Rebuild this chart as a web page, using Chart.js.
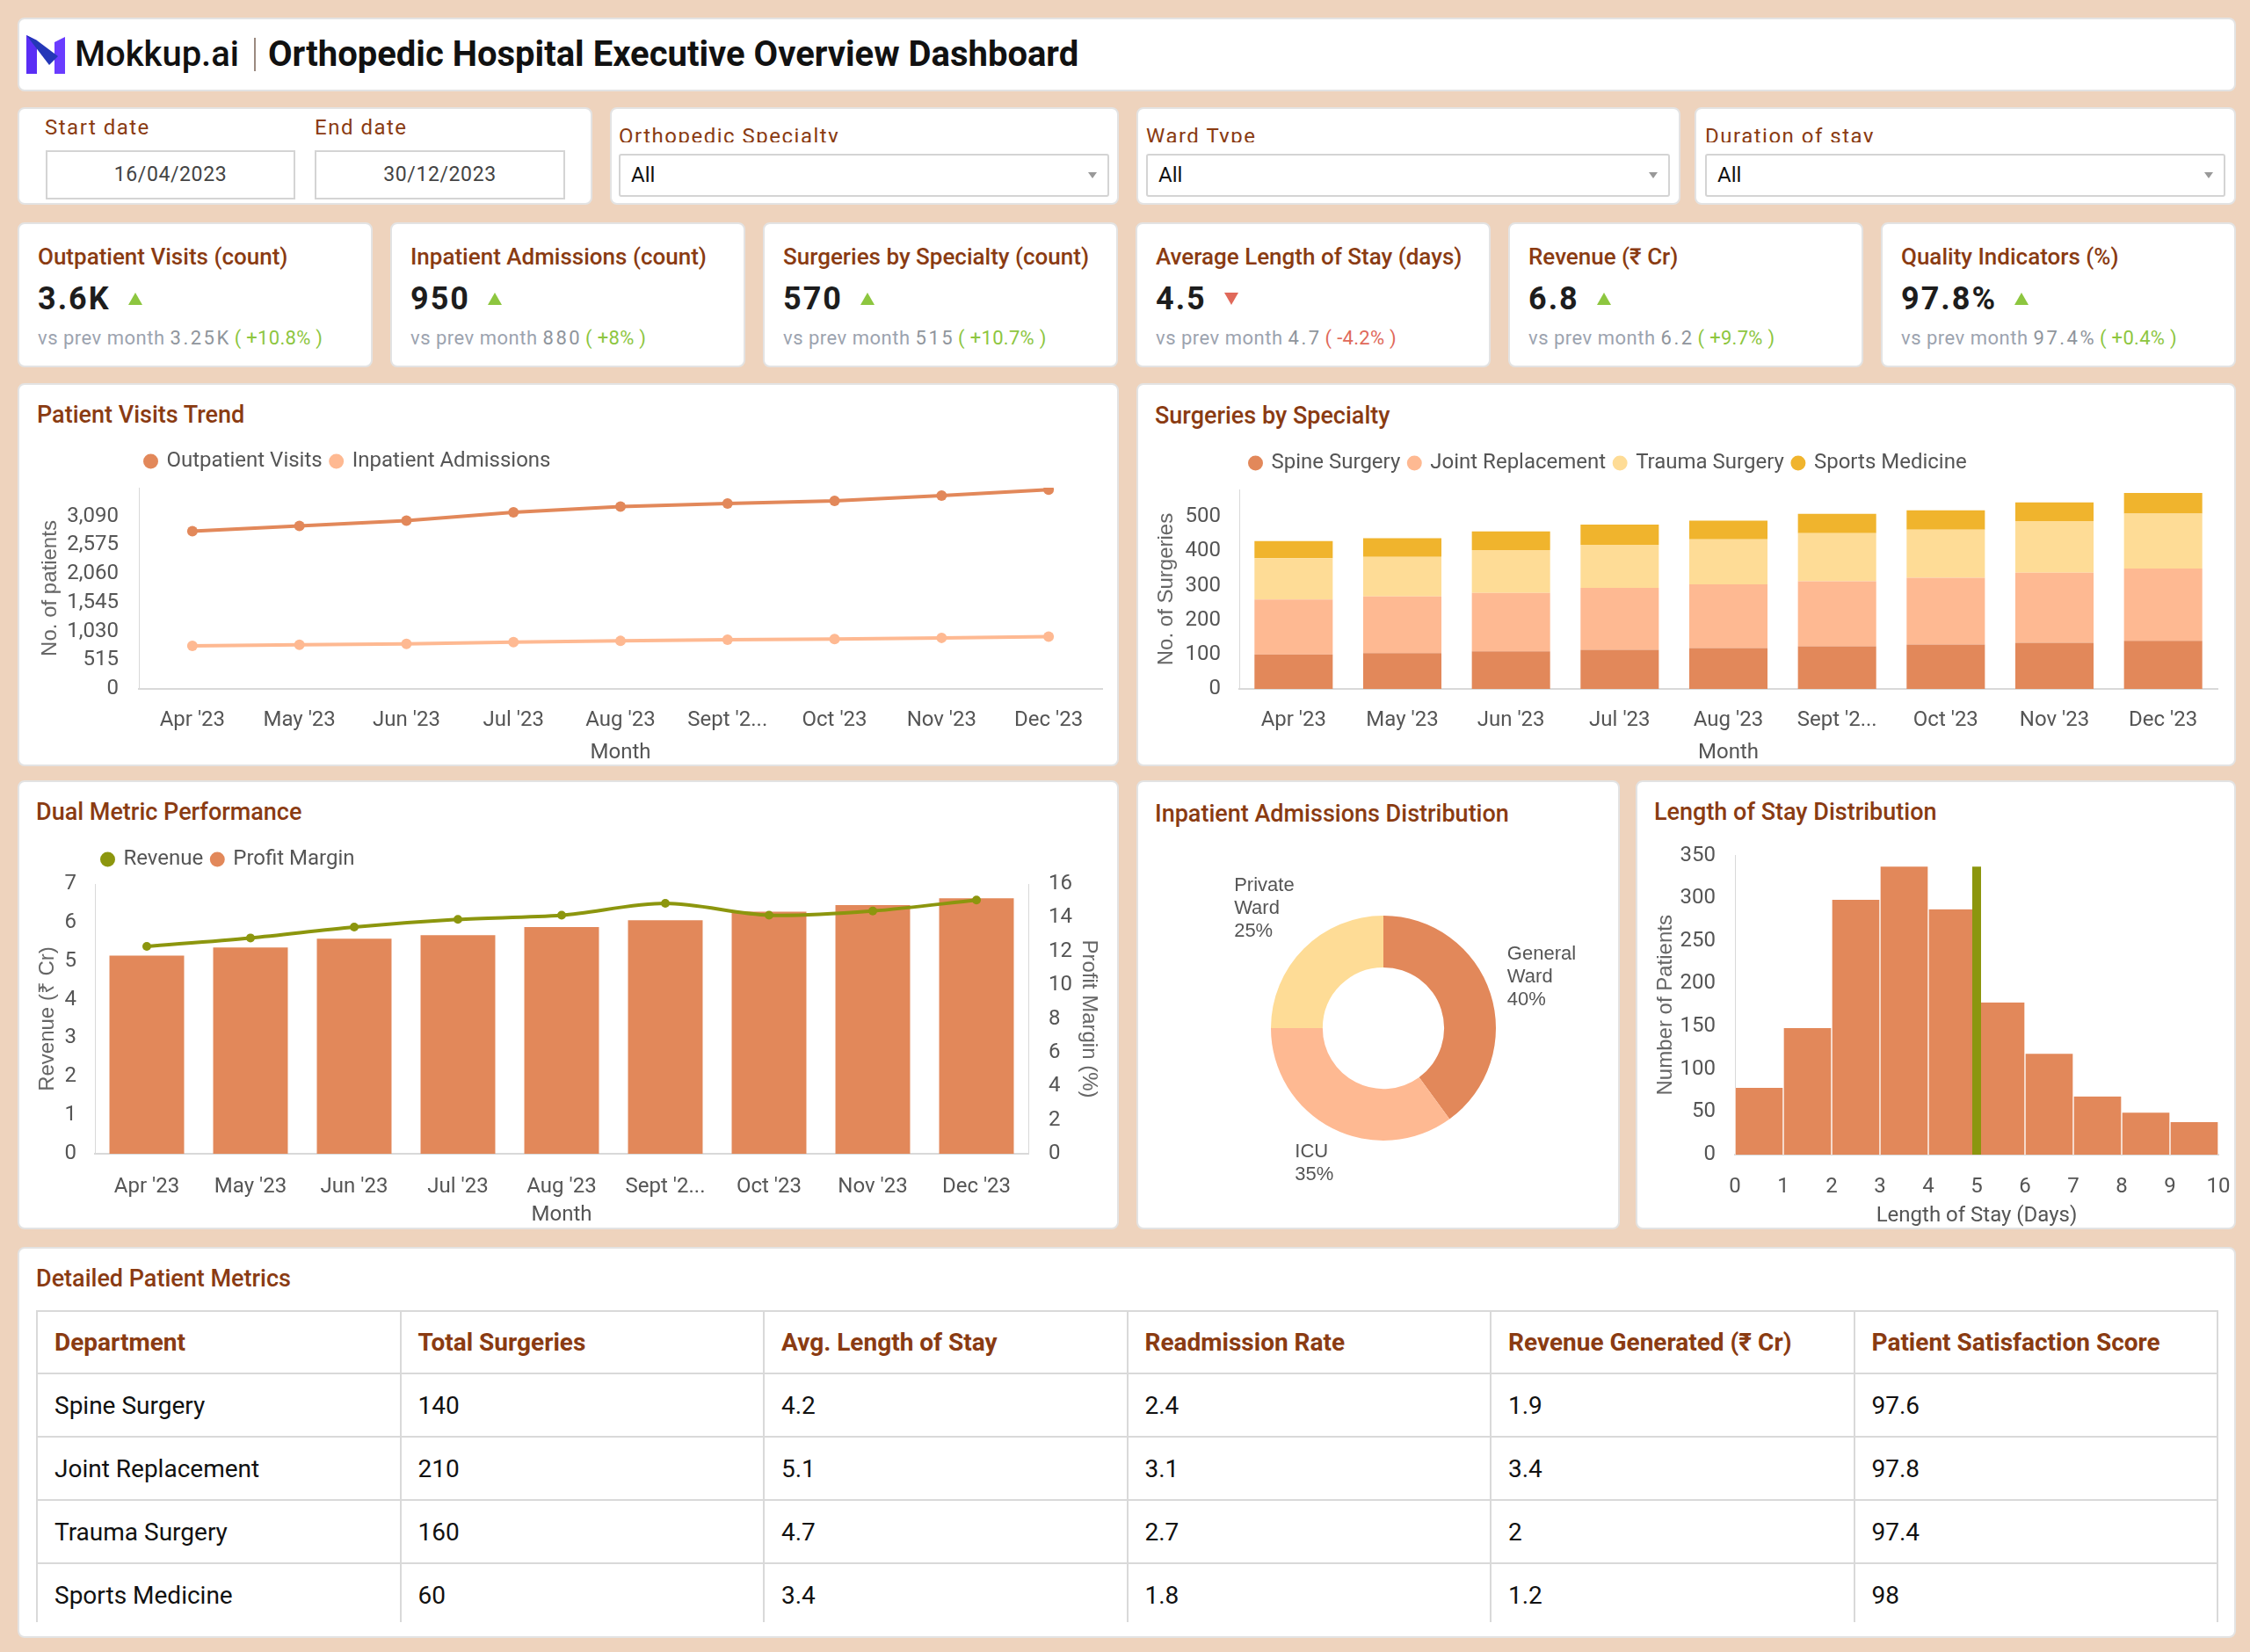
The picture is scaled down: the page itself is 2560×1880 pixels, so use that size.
<!DOCTYPE html>
<html lang="en">
<head>
<meta charset="utf-8">
<title>Orthopedic Hospital Executive Overview Dashboard</title>
<script src="https://cdn.jsdelivr.net/npm/chart.js@4.4.1/dist/chart.umd.min.js"></script>
<style>
html, body { margin: 0; padding: 0; }
body {
  position: relative; width: 2560px; height: 1880px; overflow: hidden;
  background: #EED3BD; font-family: Roboto, "Noto Sans", Arial, sans-serif;
}
.card { position: absolute; box-sizing: border-box; background: #fff; border: 2px solid #e3e3e3; border-radius: 8px; }
.txt { position: absolute; white-space: nowrap; }
.ctitle { font-size: 27px; font-weight: 500; line-height: 32px; color: #8A3B12; }
.flabel { font-size: 24px; letter-spacing: 1.5px; line-height: 28px; color: #8A3B12; overflow: hidden; }
.fbox { position: absolute; box-sizing: border-box; border: 2px solid #d4d4d4; background: #fff; }
.date { text-align: center; font-size: 23px; letter-spacing: 0.6px; color: #444; line-height: 52px; }
.select { font-size: 24px; color: #111; line-height: 45px; padding-left: 12px; border-radius: 3px; }
.select .arrow { position: absolute; right: 12px; top: 19px; border-left: 5px solid transparent; border-right: 5px solid transparent; border-top: 7px solid #999; }
.kpi-title { font-size: 26px; font-weight: 500; line-height: 30px; color: #8A3B12; }
.kpi-value { font-size: 36px; font-weight: 700; letter-spacing: 2px; line-height: 40px; color: #1d1d1d; }
.tri { display: inline-block; margin-left: 20px; vertical-align: 5px; }
.tri.up { border-left: 8px solid transparent; border-right: 8px solid transparent; border-bottom: 14px solid #8DC63F; }
.tri.down { border-left: 8px solid transparent; border-right: 8px solid transparent; border-top: 14px solid #E0695A; }
.kpi-sub { font-size: 22px; letter-spacing: 0.5px; line-height: 26px; color: #9ca3af; }
.kpi-sub .num { letter-spacing: 2.5px; color: #8f959c; margin-left: 6px; }
.kpi-sub .pos { color: #8DC63F; margin-left: 4px; letter-spacing: 0.3px; }
.kpi-sub .neg { color: #E0695A; margin-left: 4px; letter-spacing: 0.3px; }
.chart-box { position: absolute; }
.table-wrap { position: absolute; left: 41px; top: 1491px; width: 2483px; height: 355px; overflow: hidden; }
table { width: 100%; border-collapse: collapse; table-layout: fixed; }
th, td { border: 2px solid #d9d9d9; text-align: left; padding: 0 0 0 19px; }
th { height: 69px; font-size: 28px; font-weight: 700; color: #8A3B12; }
td { height: 70px; font-size: 28px; color: #111; }
</style>
</head>
<body>

<!-- header -->
<div class="card" style="left:20px;top:20px;width:2524px;height:84px;"></div>
<svg class="txt" style="left:30px;top:40px;" width="44" height="44" viewBox="0 0 44 44">
  <polygon points="0,0 12,6 12,44 0,44" fill="#5A2EF5"/>
  <polygon points="32,8 44,2 44,44 32,44" fill="#6A3CFF"/>
  <polygon points="0,0 12,6 36,24 26,34" fill="#2437B8"/>
</svg>
<div class="txt" style="left:85px;top:40px;font-size:40px;font-weight:500;line-height:44px;color:#111;">Mokkup.ai</div>
<div class="txt" style="left:289px;top:43px;width:2px;height:38px;background:#9a8a80;"></div>
<div class="txt" style="left:305px;top:40px;font-size:40px;font-weight:700;line-height:44px;color:#111;">Orthopedic Hospital Executive Overview Dashboard</div>

<!-- filters -->
<div class="card" style="left:20px;top:122px;width:654px;height:111px;"></div>
<div class="txt flabel" style="left:51px;top:131px;">Start date</div>
<div class="fbox date" style="left:52px;top:171px;width:284px;height:56px;">16/04/2023</div>
<div class="txt flabel" style="left:358px;top:131px;">End date</div>
<div class="fbox date" style="left:358px;top:171px;width:285px;height:56px;">30/12/2023</div>

<div class="card" style="left:694px;top:122px;width:579px;height:111px;"></div>
<div class="txt flabel" style="left:704px;top:141px;height:21px;">Orthopedic Specialty</div>
<div class="fbox select" style="left:704px;top:175px;width:558px;height:49px;">All<span class="arrow"></span></div>

<div class="card" style="left:1293px;top:122px;width:619px;height:111px;"></div>
<div class="txt flabel" style="left:1304px;top:141px;height:21px;">Ward Type</div>
<div class="fbox select" style="left:1304px;top:175px;width:596px;height:49px;">All<span class="arrow"></span></div>

<div class="card" style="left:1928px;top:122px;width:616px;height:111px;"></div>
<div class="txt flabel" style="left:1940px;top:141px;height:21px;">Duration of stay</div>
<div class="fbox select" style="left:1940px;top:175px;width:592px;height:49px;">All<span class="arrow"></span></div>

<!-- KPI cards are added by script -->
<div id="kpis"></div>

<!-- chart cards -->
<div class="card" style="left:20px;top:436px;width:1253px;height:436px;"></div>
<div class="txt ctitle" style="left:42px;top:456px;">Patient Visits Trend</div>
<div class="chart-box" style="left:30px;top:500px;width:1238px;height:372px;"><canvas id="visitsChart"></canvas></div>

<div class="card" style="left:1293px;top:436px;width:1251px;height:436px;"></div>
<div class="txt ctitle" style="left:1314px;top:457px;">Surgeries by Specialty</div>
<div class="chart-box" style="left:1303px;top:500px;width:1236px;height:372px;"><canvas id="surgeryChart"></canvas></div>

<div class="card" style="left:20px;top:888px;width:1253px;height:511px;"></div>
<div class="txt ctitle" style="left:41px;top:908px;">Dual Metric Performance</div>
<div class="chart-box" style="left:30px;top:950px;width:1238px;height:449px;"><canvas id="dualChart"></canvas></div>

<div class="card" style="left:1293px;top:888px;width:550px;height:511px;"></div>
<div class="txt ctitle" style="left:1314px;top:910px;">Inpatient Admissions Distribution</div>
<div class="chart-box" style="left:1303px;top:960px;width:530px;height:430px;"><canvas id="wardChart"></canvas></div>

<div class="card" style="left:1861px;top:888px;width:683px;height:511px;"></div>
<div class="txt ctitle" style="left:1882px;top:908px;">Length of Stay Distribution</div>
<div class="chart-box" style="left:1871px;top:950px;width:669px;height:449px;"><canvas id="stayChart"></canvas></div>

<!-- table -->
<div class="card" style="left:20px;top:1419px;width:2524px;height:445px;"></div>
<div class="txt ctitle" style="left:41px;top:1439px;">Detailed Patient Metrics</div>
<div class="table-wrap"><table id="metricsTable"></table></div>

<script>
// ================= DATA =================
const months = ["Apr '23", "May '23", "Jun '23", "Jul '23", "Aug '23", "Sept '23", "Oct '23", "Nov '23", "Dec '23"];

const outpatientVisits = [2825, 2920, 3015, 3165, 3265, 3320, 3370, 3465, 3570];
const inpatientAdmissions = [770, 790, 805, 840, 860, 880, 895, 915, 935];
const patientTicks = [0, 515, 1030, 1545, 2060, 2575, 3090];

const spineSurgery = [100, 104, 109, 114, 119, 124, 129, 134, 140];
const jointReplacement = [160, 165, 170, 180, 185, 189, 194, 204, 210];
const traumaSurgery = [120, 115, 125, 125, 131, 140, 140, 150, 160];
const sportsMedicine = [50, 54, 54, 59, 54, 56, 56, 54, 60];

const revenueCr = [5.14, 5.35, 5.58, 5.67, 5.88, 6.06, 6.28, 6.45, 6.63];
const profitMargin = [12.3, 12.8, 13.45, 13.9, 14.15, 14.85, 14.15, 14.4, 15.05];

const wardTypes = ["General Ward", "ICU", "Private Ward"];
const wardShare = [40, 35, 25];

const stayBins = [0.5, 1.5, 2.5, 3.5, 4.5, 5.5, 6.5, 7.5, 8.5, 9.5];
const stayPatients = [78, 148, 298, 337, 287, 178, 118, 68, 49, 38];
const stayMarker = 5;

const kpiTitles = ["Outpatient Visits (count)", "Inpatient Admissions (count)", "Surgeries by Specialty (count)", "Average Length of Stay (days)", "Revenue (₹ Cr)", "Quality Indicators (%)"];
const kpiValues = ["3.6K", "950", "570", "4.5", "6.8", "97.8%"];
const kpiPrev = ["3.25K", "880", "515", "4.7", "6.2", "97.4%"];
const kpiChange = ["+10.8%", "+8%", "+10.7%", "-4.2%", "+9.7%", "+0.4%"];

const tableHead = ["Department", "Total Surgeries", "Avg. Length of Stay", "Readmission Rate", "Revenue Generated (₹ Cr)", "Patient Satisfaction Score"];
const departments = ["Spine Surgery", "Joint Replacement", "Trauma Surgery", "Sports Medicine"];
const deptSurgeries = [140, 210, 160, 60];
const deptStay = [4.2, 5.1, 4.7, 3.4];
const deptReadmission = [2.4, 3.1, 2.7, 1.8];
const deptRevenue = [1.9, 3.4, 2, 1.2];
const deptSatisfaction = [97.6, 97.8, 97.4, 98];


// ================= COLOURS =================
const ORANGE = "#E2885A";
const SALMON = "#FEB992";
const CREAM = "#FEDC96";
const AMBER = "#F0B42D";
const OLIVE = "#8C960E";
const AXIS = "#d9d9d9";
const SIDE_FONT = { family: '"Liberation Sans", Arial, sans-serif', size: 24 };


// ================= KPI CARDS =================
function buildKpis() {
    const holder = document.getElementById("kpis");
    let html = "";
    kpiTitles.forEach((title, i) => {
        const left = 20 + i * 424;
        const up = kpiChange[i].startsWith("+");
        html += `<div class="card" style="left:${left}px;top:253px;width:404px;height:165px;"></div>` +
            `<div class="txt kpi-title" style="left:${left + 23}px;top:277px;">${title}</div>` +
            `<div class="txt kpi-value" style="left:${left + 23}px;top:320px;">${kpiValues[i]}<span class="tri ${up ? "up" : "down"}"></span></div>` +
            `<div class="txt kpi-sub" style="left:${left + 23}px;top:372px;">vs prev month<span class="num">${kpiPrev[i]}</span>` +
            `<span class="${up ? "pos" : "neg"}">( ${kpiChange[i]} )</span></div>`;
    });
    holder.innerHTML = html;
}


// ================= TABLE =================
function buildTable() {
    const rows = departments.map((d, i) =>
        `<tr><td>${d}</td><td>${deptSurgeries[i]}</td><td>${deptStay[i]}</td>` +
        `<td>${deptReadmission[i]}</td><td>${deptRevenue[i]}</td><td>${deptSatisfaction[i]}</td></tr>`
    ).join("");
    document.getElementById("metricsTable").innerHTML =
        "<tr>" + tableHead.map(h => `<th>${h}</th>`).join("") + "</tr>" + rows;
}


// ================= CHART HELPERS =================
Chart.defaults.font.family = 'Roboto, "Noto Sans", sans-serif';
Chart.defaults.font.size = 24;
Chart.defaults.color = "#555";
Chart.defaults.animation = false;

// fixed axis thickness so the plot area lands where the reference has it
function fixSize(size) {
    return scale => {
        if (scale.isHorizontal()) scale.height = size;
        else scale.width = size;
        scale.paddingTop = scale.paddingBottom = scale.paddingLeft = scale.paddingRight = 0;
    };
}

function shortMonth(value) {
    const label = this.getLabelForValue(value);
    return label.length > 7 ? label.slice(0, 7) + "..." : label;
}

// legend starts at the plot's left edge and leaves a gap below it
const legendTweak = {
    id: "legendTweak",
    afterInit(chart) {
        const legend = chart.legend;
        if (!legend) return;
        const baseFit = legend.fit;
        legend.fit = function () {
            baseFit.call(this);
            this.height += chart.options.plugins.legendTweak.gap || 0;
        };
    },
    afterLayout(chart) {
        const legend = chart.legend;
        if (!legend) return;
        const shift = chart.options.plugins.legendTweak.shift || 0;
        legend.left = chart.chartArea.left + shift - legend.options.labels.padding;
    }
};

function legendOptions() {
    return {
        position: "top",
        align: "start",
        labels: {
            usePointStyle: true,
            pointStyle: "circle",
            boxWidth: 12,
            boxHeight: 12,
            padding: 10,
            color: "#555",
            font: { size: 24 },
            generateLabels(chart) {
                return Chart.defaults.plugins.legend.labels.generateLabels(chart)
                    .map(item => Object.assign(item, { lineWidth: 0 }));
            }
        }
    };
}

const noGrid = { display: false, drawTicks: false };
const axisLine = { display: true, color: AXIS, width: 2 };


// ================= PATIENT VISITS =================
function renderVisits() {
    new Chart(document.getElementById("visitsChart"), {
        type: "line",
        data: {
            labels: months,
            datasets: [
                { label: "Outpatient Visits", data: outpatientVisits, borderColor: ORANGE, backgroundColor: ORANGE, borderWidth: 4, pointRadius: 6, pointBorderWidth: 0 },
                { label: "Inpatient Admissions", data: inpatientAdmissions, borderColor: SALMON, backgroundColor: SALMON, borderWidth: 4, pointRadius: 6, pointBorderWidth: 0 }
            ]
        },
        options: {
            responsive: true,
            maintainAspectRatio: false,
            layout: { padding: { top: 3, right: 14, bottom: 0, left: 0 } },
            plugins: {
                legend: legendOptions(),
                legendTweak: { gap: 8, shift: 7.5 },
                tooltip: { enabled: false }
            },
            scales: {
                x: {
                    offset: true,
                    grid: noGrid,
                    border: axisLine,
                    ticks: { padding: 22, callback: shortMonth, maxRotation: 0, autoSkip: false },
                    title: { display: true, text: "Month", font: { size: 24 }, padding: { top: 0, bottom: 1 } },
                    afterFit: fixSize(88)
                },
                y: {
                    min: 0,
                    max: patientTicks[patientTicks.length - 1] + 515,
                    grid: noGrid,
                    border: { display: true, color: AXIS, width: 1 },
                    ticks: {
                        stepSize: 515,
                        padding: 23,
                        callback: v => patientTicks.includes(v) ? v.toLocaleString("en-US") : ""
                    },
                    title: { display: true, text: "No. of patients", font: SIDE_FONT, color: "#666", padding: { top: 12.8, bottom: 0 } },
                    afterFit: fixSize(128)
                }
            }
        },
        plugins: [legendTweak]
    });
}


// ================= SURGERIES BY SPECIALTY =================
function renderSurgeries() {
    new Chart(document.getElementById("surgeryChart"), {
        type: "bar",
        data: {
            labels: months,
            datasets: [
                { label: "Spine Surgery", data: spineSurgery, backgroundColor: ORANGE },
                { label: "Joint Replacement", data: jointReplacement, backgroundColor: SALMON },
                { label: "Trauma Surgery", data: traumaSurgery, backgroundColor: CREAM },
                { label: "Sports Medicine", data: sportsMedicine, backgroundColor: AMBER }
            ]
        },
        options: {
            responsive: true,
            maintainAspectRatio: false,
            layout: { padding: { top: 5, right: 16, bottom: 0, left: 0 } },
            plugins: {
                legend: legendOptions(),
                legendTweak: { gap: 8, shift: 12.5 },
                tooltip: { enabled: false }
            },
            scales: {
                x: {
                    stacked: true,
                    grid: noGrid,
                    border: axisLine,
                    ticks: { padding: 22, callback: shortMonth, maxRotation: 0, autoSkip: false },
                    title: { display: true, text: "Month", font: { size: 24 }, padding: { top: 0, bottom: 1 } },
                    afterFit: fixSize(88)
                },
                y: {
                    stacked: true,
                    min: 0,
                    max: 580,
                    grid: noGrid,
                    border: { display: true, color: AXIS, width: 1 },
                    ticks: { stepSize: 100, padding: 21, callback: v => v % 100 === 0 ? v : "" },
                    title: { display: true, text: "No. of Surgeries", font: SIDE_FONT, color: "#666", padding: { top: 9.8, bottom: 0 } },
                    afterFit: fixSize(107)
                }
            }
        },
        plugins: [legendTweak]
    });
}


// ================= DUAL METRIC =================
function renderDual() {
    new Chart(document.getElementById("dualChart"), {
        type: "bar",
        data: {
            labels: months,
            datasets: [
                {
                    type: "line", label: "Revenue", data: profitMargin, yAxisID: "y1", order: 0,
                    borderColor: OLIVE, backgroundColor: OLIVE, borderWidth: 4, tension: 0.3,
                    pointRadius: 5, pointBorderWidth: 0
                },
                { type: "bar", label: "Profit Margin", data: revenueCr, yAxisID: "y", order: 1, backgroundColor: ORANGE }
            ]
        },
        options: {
            responsive: true,
            maintainAspectRatio: false,
            layout: { padding: { top: 6, right: 0, bottom: 0, left: 0 } },
            plugins: {
                legend: legendOptions(),
                legendTweak: { gap: 6, shift: 8.5 },
                tooltip: { enabled: false }
            },
            scales: {
                x: {
                    grid: noGrid,
                    border: axisLine,
                    ticks: { padding: 23.6, callback: shortMonth, maxRotation: 0, autoSkip: false },
                    title: { display: true, text: "Month", font: { size: 24 }, padding: { top: 0, bottom: 1.6 } },
                    afterFit: fixSize(86)
                },
                y: {
                    position: "left",
                    min: 0,
                    max: 7,
                    grid: noGrid,
                    border: { display: true, color: AXIS, width: 1 },
                    ticks: { stepSize: 1, padding: 21 },
                    title: { display: true, text: "Revenue (₹ Cr)", font: SIDE_FONT, color: "#666", padding: { top: 9.8, bottom: 0 } },
                    afterFit: fixSize(78)
                },
                y1: {
                    position: "right",
                    min: 0,
                    max: 16,
                    grid: noGrid,
                    border: { display: true, color: AXIS, width: 1 },
                    ticks: { stepSize: 2, padding: 23 },
                    title: { display: true, text: "Profit Margin (%)", font: SIDE_FONT, color: "#666", padding: { top: 14.8, bottom: 0 } },
                    afterFit: fixSize(98)
                }
            }
        },
        plugins: [legendTweak]
    });
}


// ================= WARD DISTRIBUTION =================
const sliceLabels = {
    id: "sliceLabels",
    afterDatasetsDraw(chart) {
        const { ctx } = chart;
        const meta = chart.getDatasetMeta(0);
        const total = wardShare.reduce((a, b) => a + b, 0);
        const lineH = 26;
        ctx.save();
        ctx.font = '22px "Liberation Sans", Arial, sans-serif';
        ctx.fillStyle = "#555";
        ctx.textAlign = "left";
        ctx.textBaseline = "middle";
        meta.data.forEach((arc, i) => {
            const lines = wardTypes[i].split(" ");
            lines.push(Math.round(wardShare[i] / total * 100) + "%");
            const w = Math.max(...lines.map(t => ctx.measureText(t).width));
            const h = lines.length * lineH;
            const mid = (arc.startAngle + arc.endAngle) / 2;
            const cos = Math.cos(mid), sin = Math.sin(mid);
            const r = arc.outerRadius + 12 + Math.abs(cos) * w / 2 + Math.abs(sin) * h / 2;
            const cx = arc.x + cos * r;
            const cy = arc.y + sin * r;
            lines.forEach((t, k) => {
                ctx.fillText(t, cx - w / 2, cy + (k - (lines.length - 1) / 2) * lineH);
            });
        });
        ctx.restore();
    }
};

function renderWards() {
    new Chart(document.getElementById("wardChart"), {
        type: "doughnut",
        data: {
            labels: wardTypes,
            datasets: [{
                data: wardShare,
                backgroundColor: [ORANGE, SALMON, CREAM],
                borderWidth: 0,
                hoverOffset: 0,
                offset: 0
            }]
        },
        options: {
            responsive: true,
            maintainAspectRatio: false,
            cutout: "54%",
            layout: { padding: { top: 82, right: 131, bottom: 92, left: 143 } },
            plugins: {
                legend: { display: false },
                tooltip: { enabled: false }
            }
        },
        plugins: [sliceLabels]
    });
}


// ================= LENGTH OF STAY =================
function renderStay() {
    const peak = Math.max(...stayPatients);
    new Chart(document.getElementById("stayChart"), {
        type: "bar",
        data: {
            datasets: [
                {
                    type: "line", label: "Marker", order: 0,
                    data: [{ x: stayMarker, y: 0 }, { x: stayMarker, y: peak }],
                    borderColor: OLIVE, borderWidth: 10, pointRadius: 0
                },
                {
                    type: "bar", label: "Patients", order: 1,
                    data: stayBins.map((x, i) => ({ x: x, y: stayPatients[i] })),
                    backgroundColor: ORANGE,
                    borderColor: "#ffffff",
                    borderWidth: { left: 1, right: 1, top: 0, bottom: 0 },
                    borderSkipped: false,
                    barPercentage: 1,
                    categoryPercentage: 1
                }
            ]
        },
        options: {
            responsive: true,
            maintainAspectRatio: false,
            layout: { padding: { top: 23.5, right: 16, bottom: 0, left: 0 } },
            plugins: {
                legend: { display: false },
                tooltip: { enabled: false }
            },
            scales: {
                x: {
                    type: "linear",
                    min: 0,
                    max: 10,
                    offset: false,
                    grid: noGrid,
                    border: axisLine,
                    ticks: { stepSize: 1, padding: 22.5 },
                    title: { display: true, text: "Length of Stay (Days)", font: { size: 24 }, padding: { top: 0, bottom: 1 } },
                    afterFit: fixSize(85)
                },
                y: {
                    min: 0,
                    max: 350,
                    grid: noGrid,
                    border: { display: true, color: AXIS, width: 1 },
                    ticks: { stepSize: 50, padding: 22 },
                    title: { display: true, text: "Number of Patients", font: SIDE_FONT, color: "#666", padding: { top: 9.8, bottom: 0 } },
                    afterFit: fixSize(103)
                }
            }
        }
    });
}


// ================= INIT =================
buildKpis();
buildTable();
renderVisits();
renderSurgeries();
renderDual();
renderWards();
renderStay();
</script>
</body>
</html>
